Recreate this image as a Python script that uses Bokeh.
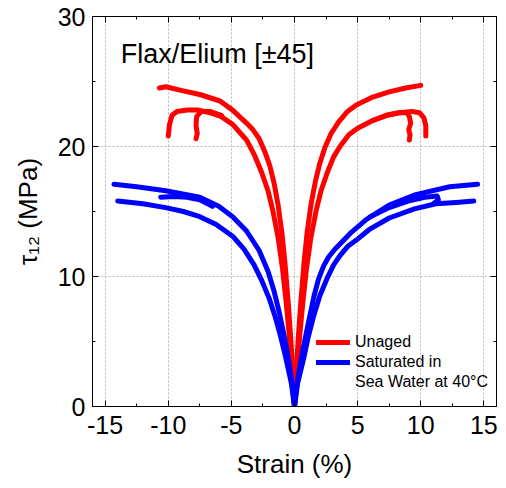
from bokeh.plotting import figure
from bokeh.models import (Range1d, LinearAxis, SingleIntervalTicker, Legend, LegendItem, Label,
                          CustomJSTickFormatter)
from bokeh.embed import file_html
from bokeh.resources import INLINE

# ---------------- data ----------------
# Unaged, specimen A (highest curve)
red_a_pos_x = [0, 0.12, 0.3, 0.5, 0.75, 1.0, 1.3, 1.65, 2.0, 2.4, 2.9, 3.5, 4.2, 4.9, 6.2, 7.5, 8.8, 10.0]
red_a_pos_y = [0, 2.5, 5.3, 8.0, 11.0, 13.4, 15.5, 17.3, 18.7, 19.9, 21.0, 21.9, 22.7, 23.2, 23.8, 24.2, 24.5, 24.7]
red_a_neg_x = [0, -0.12, -0.3, -0.5, -0.75, -1.0, -1.3, -1.6, -1.95, -2.35, -2.8, -3.3, -3.8, -4.9, -5.9, -7.5, -8.9, -10.2, -10.7]
red_a_neg_y = [0, 2.5, 5.3, 8.0, 11.0, 13.4, 15.5, 17.1, 18.5, 19.6, 20.6, 21.3, 21.8, 22.8, 23.5, 24.0, 24.3, 24.6, 24.5]
# Unaged, specimen B
red_b_pos_x = [0, 0.15, 0.4, 0.65, 0.95, 1.3, 1.7, 2.1, 2.6, 3.1, 3.6, 4.3, 5.0, 6.2, 7.3, 8.3, 9.3, 9.9, 10.25, 10.4, 10.4]
red_b_pos_y = [0, 2.5, 5.3, 7.9, 10.6, 13.0, 15.0, 16.6, 18.0, 19.2, 20.0, 20.9, 21.4, 22.0, 22.4, 22.6, 22.7, 22.6, 22.2, 21.6, 20.8]
red_b_neg_x = [0, -0.15, -0.4, -0.65, -0.95, -1.3, -1.7, -2.1, -2.6, -3.2, -3.8, -4.9, -5.8, -6.7, -7.6, -8.5, -9.3, -9.7, -9.9, -10.0]
red_b_neg_y = [0, 2.5, 5.3, 7.9, 10.6, 13.0, 15.0, 16.6, 18.0, 19.4, 20.5, 21.7, 22.3, 22.6, 22.8, 22.8, 22.7, 22.4, 21.7, 20.8]
# Unaged, specimen C (ends earlier)
red_c_pos_x = [6.2, 7.3, 8.3, 8.9, 9.1, 9.2, 9.05, 9.15, 9.1]
red_c_pos_y = [22.0, 22.4, 22.6, 22.6, 22.3, 21.8, 21.3, 20.9, 20.5]
red_c_neg_x = [-5.8, -6.7, -7.4, -7.75, -7.8, -7.7, -7.8]
red_c_neg_y = [22.4, 22.7, 22.7, 22.3, 21.6, 21.0, 20.6]

# Saturated in sea water at 40 C, specimen C (highest)
blue_c_pos_x = [0, 0.2, 0.55, 0.9, 1.2, 1.55, 1.9, 2.3, 2.7, 3.2, 3.7, 4.5, 5.7, 7.5, 9.6, 12.3, 14.5]
blue_c_pos_y = [0, 1.8, 3.8, 5.5, 6.9, 8.5, 9.8, 10.8, 11.5, 12.1, 12.6, 13.4, 14.4, 15.5, 16.3, 16.9, 17.1]
blue_c_neg_x = [0, -0.2, -0.5, -0.85, -1.2, -1.6, -2.1, -2.8, -3.8, -4.9, -6.0, -7.5, -10.2, -12.5, -14.3]
blue_c_neg_y = [0, 1.8, 3.8, 5.6, 7.2, 8.8, 10.4, 12.0, 13.5, 14.6, 15.4, 16.1, 16.6, 16.9, 17.1]
# specimen D (lowest)
blue_d_pos_x = [0, 0.25, 0.75, 1.1, 1.5, 2.0, 2.6, 3.1, 3.6, 4.2, 4.9, 5.9, 7.5, 9.5, 11.2, 12.8, 14.2]
blue_d_pos_y = [0, 1.8, 3.8, 5.4, 6.9, 8.5, 9.9, 10.9, 11.6, 12.3, 12.8, 13.6, 14.5, 15.2, 15.6, 15.7, 15.8]
blue_d_neg_x = [0, -0.25, -0.7, -1.1, -1.5, -2.0, -2.6, -3.2, -4.0, -4.9, -6.2, -7.5, -8.8, -10.2, -12.0, -14.0]
blue_d_neg_y = [0, 1.8, 3.8, 5.4, 6.8, 8.3, 9.7, 10.9, 12.1, 13.1, 14.0, 14.6, 15.0, 15.3, 15.6, 15.8]
# specimen E (middle, shorter)
blue_e_pos_x = [6.0, 7.5, 9.0, 10.3, 11.3, 11.4, 11.0]
blue_e_pos_y = [14.6, 15.3, 15.8, 16.1, 16.2, 15.9, 15.6]
blue_e_neg_x = [-6.5, -7.5, -8.5, -9.6, -10.6]
blue_e_neg_y = [15.4, 15.9, 16.1, 16.15, 16.1]

red_series = [(red_a_pos_x, red_a_pos_y), (red_a_neg_x, red_a_neg_y),
              (red_b_pos_x, red_b_pos_y), (red_b_neg_x, red_b_neg_y),
              (red_c_pos_x, red_c_pos_y), (red_c_neg_x, red_c_neg_y)]
blue_series = [(blue_c_pos_x, blue_c_pos_y), (blue_c_neg_x, blue_c_neg_y),
               (blue_d_pos_x, blue_d_pos_y), (blue_d_neg_x, blue_d_neg_y),
               (blue_e_pos_x, blue_e_pos_y), (blue_e_neg_x, blue_e_neg_y)]

x_tick_labels = {-15: "-15", -10: "-10", -5: "-5", 0: "0", 5: "5", 10: "10", 15: "15"}
y_tick_labels = {0: "0", 10: "10", 20: "20", 30: "30"}
legend_labels = ["Unaged", "Saturated in", "Sea Water at 40°C"]
title_text = "Flax/Elium [±45]"

FONT = "Liberation Sans"

p = figure(frame_width=404, frame_height=390, output_backend="svg", toolbar_location=None,
           x_range=Range1d(-16, 16), y_range=Range1d(0, 30),
           min_border_left=92, min_border_right=10, min_border_top=16, min_border_bottom=82)
p.background_fill_color = "white"
p.border_fill_color = "white"
p.outline_line_color = "black"
p.outline_line_width = 1

p.xaxis.ticker = SingleIntervalTicker(interval=5, num_minor_ticks=2)
p.yaxis.ticker = SingleIntervalTicker(interval=10, num_minor_ticks=2)
p.xaxis.major_label_overrides = x_tick_labels
p.yaxis.major_label_overrides = y_tick_labels
p.xaxis.axis_label = "Strain (%)"
p.yaxis.axis_label = "τ₁₂ (MPa)"

for ax in (p.xaxis[0], p.yaxis[0]):
    ax.major_tick_in = 6
    ax.major_tick_out = 0
    ax.minor_tick_in = 3
    ax.minor_tick_out = 0
    ax.axis_line_color = "black"
    ax.major_tick_line_color = "black"
    ax.minor_tick_line_color = "black"
    ax.major_label_text_font = FONT
    ax.major_label_text_font_size = "25px"
    ax.major_label_text_color = "black"
    ax.axis_label_text_font = FONT
    ax.axis_label_text_font_size = "26px"
    ax.axis_label_text_font_style = "normal"
    ax.axis_label_text_color = "black"
p.xaxis.major_label_standoff = 9
p.xaxis.axis_label_standoff = 12
p.yaxis.major_label_standoff = 7
p.yaxis.axis_label_standoff = 12

# mirrored axes (ticks only, no labels)
for loc, tk in (("right", SingleIntervalTicker(interval=10, num_minor_ticks=2)),
                ("above", SingleIntervalTicker(interval=5, num_minor_ticks=2))):
    ax = LinearAxis(ticker=tk, formatter=CustomJSTickFormatter(code="return ''"))
    ax.major_tick_in = 6
    ax.major_tick_out = 0
    ax.minor_tick_in = 3
    ax.minor_tick_out = 0
    ax.major_label_standoff = 0
    ax.axis_line_color = "black"
    p.add_layout(ax, loc)

for g in (p.xgrid[0], p.ygrid[0]):
    g.grid_line_color = "#b8b8b8"
    g.grid_line_dash = "2 2"
    g.grid_line_width = 1

red_rs = []
for xs, ys in red_series:
    red_rs.append(p.line(xs, ys, line_color="#ff0000", line_width=5, line_join="round", line_cap="round"))
blue_rs = []
for xs, ys in blue_series:
    blue_rs.append(p.line(xs, ys, line_color="#0000ff", line_width=5, line_join="round", line_cap="round"))
dummy = p.line(blue_e_pos_x, blue_e_pos_y, line_alpha=0, line_width=4)

legend = Legend(items=[LegendItem(label=legend_labels[0], renderers=[red_rs[0]]),
                       LegendItem(label=legend_labels[1], renderers=[blue_rs[0]]),
                       LegendItem(label=legend_labels[2], renderers=[dummy])],
                location=(224, 14))
legend.border_line_alpha = 0
legend.background_fill_alpha = 0
legend.padding = 0
legend.margin = 0
legend.spacing = 0
legend.label_height = 20
legend.glyph_height = 20
legend.glyph_width = 34
legend.label_standoff = 5
legend.label_text_font = FONT
legend.label_text_font_size = "16px"
legend.label_text_color = "black"
p.add_layout(legend)

title = Label(x=-13.77, y=27.13, text=title_text, text_font=FONT, text_font_size="27px",
              text_color="black", text_baseline="alphabetic", text_align="left")
p.add_layout(title)

open("out.html", "w").write(file_html(p, INLINE))
